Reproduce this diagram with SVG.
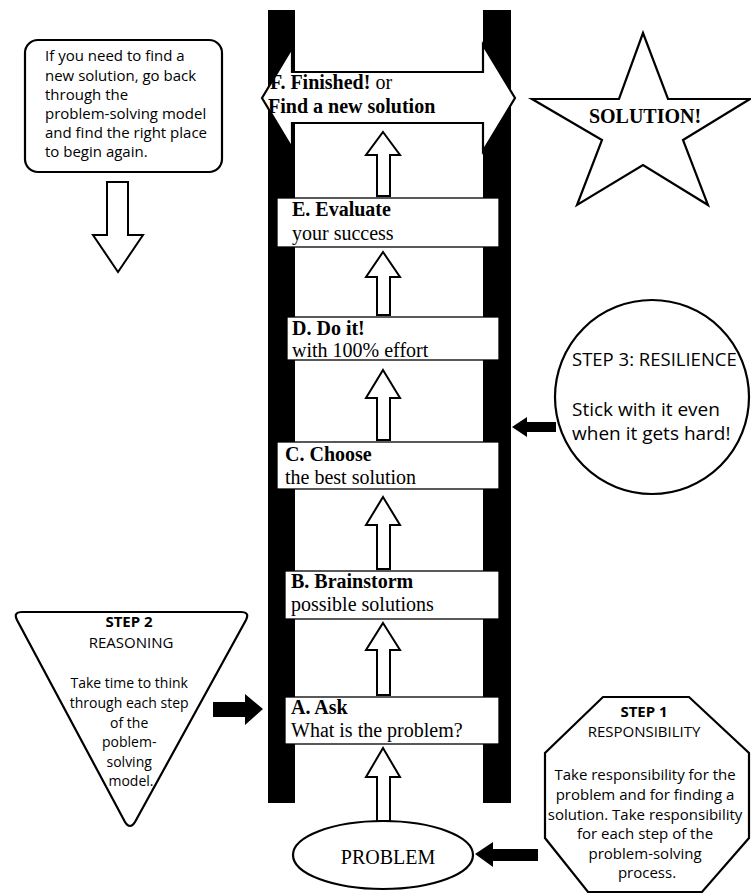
<svg xmlns="http://www.w3.org/2000/svg" width="751" height="894" viewBox="0 0 751 894">
<style>
  .ol { fill: #fff; stroke: #000; stroke-width: 2.2; stroke-linejoin: miter; }
  .rail { fill: #000; }
  .box { fill: #fff; stroke: #000; stroke-width: 1.3; }
  .up { fill: #fff; stroke: #000; stroke-width: 2; stroke-linejoin: miter; }
  .blk { fill: #000; }
  .serif { font-family: "Liberation Serif", "Times New Roman", serif; font-size: 20px; fill: #000; }
  .b { font-weight: bold; }
  .sans { font-family: "Open Sans", "Noto Sans", "DejaVu Sans", sans-serif; fill: #000; }
</style>
<rect x="0" y="0" width="751" height="894" fill="#fff"/>

<g id="ladder">
  <rect class="rail" x="268" y="10" width="27" height="793"/>
  <rect class="rail" x="483" y="10" width="28" height="793"/>
</g>

<g id="note-new-solution">
  <rect class="ol" x="25" y="40" width="197" height="132" rx="13" ry="13" stroke-width="2.5"/>
  <text class="sans" font-size="15">
    <tspan x="45" y="61">If you need to find a</tspan>
    <tspan x="45" y="81">new solution, go back</tspan>
    <tspan x="45" y="100">through the</tspan>
    <tspan x="45" y="119">problem-solving model</tspan>
    <tspan x="45" y="138">and find the right place</tspan>
    <tspan x="45" y="157">to begin again.</tspan>
  </text>
</g>

<g id="step-f">
  <path class="ol" d="M262,98 L292,48 L292,72 L483,72 L483,45 L515,98 L483,151 L483,123 L292,123 L292,148 Z"/>
  <text class="serif" font-size="21" x="270" y="89"><tspan class="b">F. Finished!</tspan> or</text>
  <text class="serif b" font-size="21.5" x="268" y="113">Find a new solution</text>
</g>

<g id="solution-star">
  <path class="ol" stroke-width="2.5" d="M643,33 L668,99 L750,99 L683,140 L708,205 L643,165 L577,205 L602,140 L532,99 L619,99 Z"/>
  <text class="serif b" font-size="20.5" x="645" y="123" text-anchor="middle">SOLUTION!</text>
</g>

<g id="step-e">
  <rect class="box" x="277" y="198" width="222" height="49"/>
  <text class="serif b" x="292" y="216">E. Evaluate</text>
  <text class="serif" x="292" y="240">your success</text>
</g>

<g id="step-d">
  <rect class="box" x="287" y="317" width="212" height="43"/>
  <text class="serif b" x="292" y="335">D. Do it!</text>
  <text class="serif" x="292" y="357">with 100% effort</text>
</g>

<g id="step-c">
  <rect class="box" x="277" y="442" width="222" height="47"/>
  <text class="serif b" x="285" y="461">C. Choose</text>
  <text class="serif" x="285" y="484">the best solution</text>
</g>

<g id="step-b">
  <rect class="box" x="285" y="571" width="214" height="48"/>
  <text class="serif b" x="291" y="588">B. Brainstorm</text>
  <text class="serif" x="291" y="611">possible solutions</text>
</g>

<g id="step-a">
  <rect class="box" x="285" y="697" width="214" height="47"/>
  <text class="serif b" x="291" y="714">A. Ask</text>
  <text class="serif" x="291" y="737">What is the problem?</text>
</g>

<g id="problem">
  <ellipse class="ol" cx="383" cy="855" rx="90" ry="34"/>
  <text class="serif" font-size="24" x="388" y="864" text-anchor="middle">PROBLEM</text>
</g>

<g id="step3-resilience">
  <circle class="ol" cx="652" cy="397" r="97"/>
  <text class="sans" font-size="18.5" x="572" y="366">STEP 3: RESILIENCE</text>
  <text class="sans" font-size="19" x="572" y="416">Stick with it even</text>
  <text class="sans" font-size="19" x="572" y="440">when it gets hard!</text>
</g>

<g id="step2-reasoning">
  <path class="ol" stroke-width="2.5" d="M22,612 L241,612 Q250,612 246,620 L135,822 Q130,830 125,822 L17,620 Q13,612 22,612 Z"/>
  <text class="sans" font-size="15" text-anchor="middle">
    <tspan x="131" y="627" font-weight="bold">STEP 2</tspan>
    <tspan x="131" y="648">REASONING</tspan>
  </text>
  <text class="sans" font-size="14" text-anchor="middle">
    <tspan x="131" y="688">Take time to think</tspan>
    <tspan x="131" y="708">through each step</tspan>
    <tspan x="131" y="728">of the</tspan>
    <tspan x="131" y="747">poblem-</tspan>
    <tspan x="131" y="767">solving</tspan>
    <tspan x="131" y="786">model.</tspan>
  </text>
</g>

<g id="step1-responsibility">
  <path class="ol" d="M603,697 L689,697 L749,753 L749,838 L702,892 L588,892 L545,838 L545,753 Z"/>
  <text class="sans" font-size="15" text-anchor="middle">
    <tspan x="646" y="717" font-weight="bold">STEP 1</tspan>
    <tspan x="646" y="737">RESPONSIBILITY</tspan>
    <tspan x="647" y="780">Take responsibility for the</tspan>
    <tspan x="647" y="800">problem and for finding a</tspan>
    <tspan x="647" y="820">solution. Take responsibility</tspan>
    <tspan x="647" y="839">for each step of the</tspan>
    <tspan x="647" y="859">problem-solving</tspan>
    <tspan x="647" y="878">process.</tspan>
  </text>
</g>

<g id="connectors">
  <path class="up" d="M383,132 L400,155 L390,155 L390,196 L377,196 L377,155 L366,155 Z"/>
  <path class="up" d="M383,252 L400,277 L390,277 L390,315 L377,315 L377,277 L366,277 Z"/>
  <path class="up" d="M383,370 L400,398 L390,398 L390,440 L377,440 L377,398 L366,398 Z"/>
  <path class="up" d="M383,497 L400,525 L390,525 L390,569 L377,569 L377,525 L366,525 Z"/>
  <path class="up" d="M383,623 L400,650 L390,650 L390,695 L377,695 L377,650 L366,650 Z"/>
  <path class="up" d="M383,748 L400,777 L390,777 L390,821 L377,821 L377,777 L366,777 Z"/>
  <path class="up" stroke-width="2.2" d="M107,182 L128,182 L128,235 L143,235 L118,272 L93,235 L107,235 Z"/>
  <path class="blk" d="M512,427 L527,417 L527,422 L556,422 L556,432 L527,432 L527,437 Z"/>
  <path class="blk" d="M263,709 L245,694 L245,702 L213,702 L213,717 L245,717 L245,725 Z"/>
  <path class="blk" d="M475,854 L493,842 L493,849 L538,849 L538,861 L493,861 L493,867 Z"/>
</g>
</svg>
